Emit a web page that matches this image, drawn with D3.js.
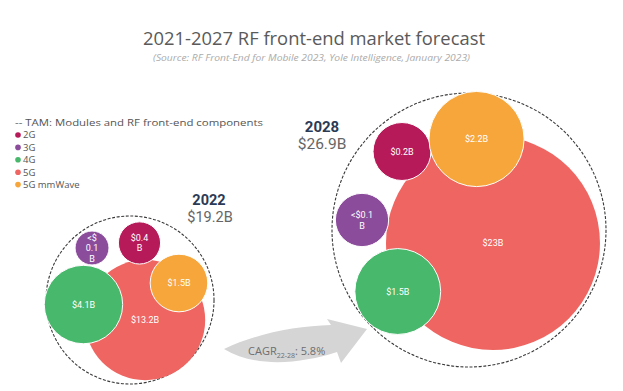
<!DOCTYPE html>
<html><head><meta charset="utf-8">
<script src="https://cdn.jsdelivr.net/npm/d3@7"></script>
<style>
html,body{margin:0;padding:0;background:#fff;}
svg{display:block;font-family:"Open Sans","Noto Sans",sans-serif;}
.rb{font-family:Roboto,"Open Sans",sans-serif;}
</style></head>
<body>
<svg id="chart" width="623" height="391"></svg>
<script>
// ---- data ----
const categories = ["2G", "3G", "4G", "5G", "5G mmWave"];
const years = ["2022", "2028"];
const totals = [19.2, 26.9];
const totalLabels = ["$19.2B", "$26.9B"];
const values2022 = [0.4, 0.1, 4.1, 13.2, 1.5];
const values2028 = [0.2, 0.1, 1.5, 23, 2.2];
const labels2022 = ["$0.4|B", "<$|0.1|B", "$4.1B", "$13.2B", "$1.5B"];
const labels2028 = ["$0.2B", "<$0.1|B", "$1.5B", "$23B", "$2.2B"];
const cagrValue = "5.8%";
const cagrPeriod = "22-28";
const tamLabel = "TAM: Modules and RF front-end components";
const title = "2021-2027 RF front-end market forecast";
const subtitle = "(Source: RF Front-End for Mobile 2023, Yole Intelligence, January 2023)";

// ---- style / layout ----
const colors = ["#b71a58", "#8c4c9c", "#47b86c", "#ef6561", "#f6a63b"];
const drawOrder = [3, 0, 1, 2, 4];
const layout = {
  "2022": {cx: 130, cy: 300, off: [[0.113,-0.679],[-0.452,-0.619],[-0.554,0.054],[0.179,0.238],[0.583,-0.202]]},
  "2028": {cx: 469, cy: 230, off: [[-0.489,-0.573],[-0.781,-0.073],[-0.52,0.449],[0.175,0.095],[0.055,-0.664]]}
};

const svg = d3.select("#chart");

// scales
const tamR = d3.scalePow().exponent(1.45).domain([0, d3.max(totals)]).range([0, 137]);
const shareR = d3.scaleSqrt().domain([0, 1]).range([0.153, 0.832]);

// title
svg.append("text").attr("x", 143).attr("y", 45)
  .attr("font-size", 18).attr("fill", "#5a5a5a")
  .attr("textLength", 342).attr("lengthAdjust", "spacingAndGlyphs").text(title);
svg.append("text").attr("x", 153).attr("y", 61)
  .attr("font-size", 9).attr("font-style", "italic").attr("fill", "#ababab")
  .attr("textLength", 317).attr("lengthAdjust", "spacingAndGlyphs").text(subtitle);

// legend
const lg = svg.append("g").attr("transform", "translate(14,0)");
lg.append("text").attr("x", 1).attr("y", 126).attr("font-size", 9.5).attr("fill", "#555")
  .attr("textLength", 248).attr("lengthAdjust", "spacingAndGlyphs")
  .text("-- " + tamLabel);
categories.forEach((c, i) => {
  const y = 135 + i * 12.4;
  lg.append("circle").attr("cx", 4).attr("cy", y).attr("r", 2.8).attr("fill", colors[i]);
  lg.append("text").attr("x", 9).attr("y", y + 3.3).attr("font-size", 9.5).attr("fill", "#555").text(c);
});

// bubbles
const yearData = [values2022, values2028];
const yearLabels = [labels2022, labels2028];
years.forEach((yr, yi) => {
  const L = layout[yr];
  const R = tamR(totals[yi]);
  const g = svg.append("g").attr("transform", `translate(${L.cx},${L.cy})`);
  g.append("circle").attr("r", R).attr("fill", "none").attr("stroke", "#3a3a3a")
    .attr("stroke-width", 1.1).attr("stroke-dasharray", "3,1.6");
  drawOrder.forEach(i => {
    const v = yearData[yi][i];
    const r = R * shareR(v / totals[yi]);
    const x = L.off[i][0] * R, y = L.off[i][1] * R;
    g.append("circle").attr("cx", x).attr("cy", y).attr("r", r)
      .attr("fill", colors[i]).attr("stroke", "#fff").attr("stroke-width", i === 3 ? 0 : 1);
    const lines = yearLabels[yi][i].split("|");
    const lh = 10.6;
    const t = g.append("text").attr("class", "rb").attr("text-anchor", "middle").attr("fill", "#fff")
      .attr("font-size", 9);
    lines.forEach((ln, k) => {
      t.append("tspan").attr("x", x).attr("y", y + 3.2 + (k - (lines.length - 1) / 2) * lh).text(ln);
    });
  });
});

// year headers
svg.append("text").attr("class", "rb").attr("x", 209).attr("y", 205).attr("text-anchor", "middle")
  .attr("font-size", 14.5).attr("font-weight", "bold").attr("fill", "#2b3a55").text(years[0]);
svg.append("text").attr("class", "rb").attr("x", 210).attr("y", 222).attr("text-anchor", "middle")
  .attr("font-size", 14.5).attr("fill", "#666").text(totalLabels[0]);
svg.append("text").attr("class", "rb").attr("x", 322).attr("y", 131.5).attr("text-anchor", "middle")
  .attr("font-size", 15).attr("font-weight", "bold").attr("fill", "#2b3a55").text(years[1]);
svg.append("text").attr("class", "rb").attr("x", 322).attr("y", 149).attr("text-anchor", "middle")
  .attr("font-size", 15.5).attr("fill", "#666").text(totalLabels[1]);

// CAGR arrow
const p = d3.path();
p.moveTo(224, 349);
p.bezierCurveTo(255, 334, 295, 326, 331, 325);
p.lineTo(327, 319);
p.lineTo(367, 329);
p.lineTo(341, 363);
p.lineTo(337, 352);
p.bezierCurveTo(300, 364, 255, 368, 224, 349);
p.closePath();
svg.append("path").attr("d", p.toString()).attr("fill", "#d5d5d5");
const ct = svg.append("text").attr("x", 248).attr("y", 355).attr("font-size", 11).attr("fill", "#6e6e6e");
ct.append("tspan").text("CAGR");
ct.append("tspan").attr("font-size", 7).attr("dy", 3).text(cagrPeriod);
ct.append("tspan").attr("dy", -3).text(": " + cagrValue);
</script>
</body></html>
